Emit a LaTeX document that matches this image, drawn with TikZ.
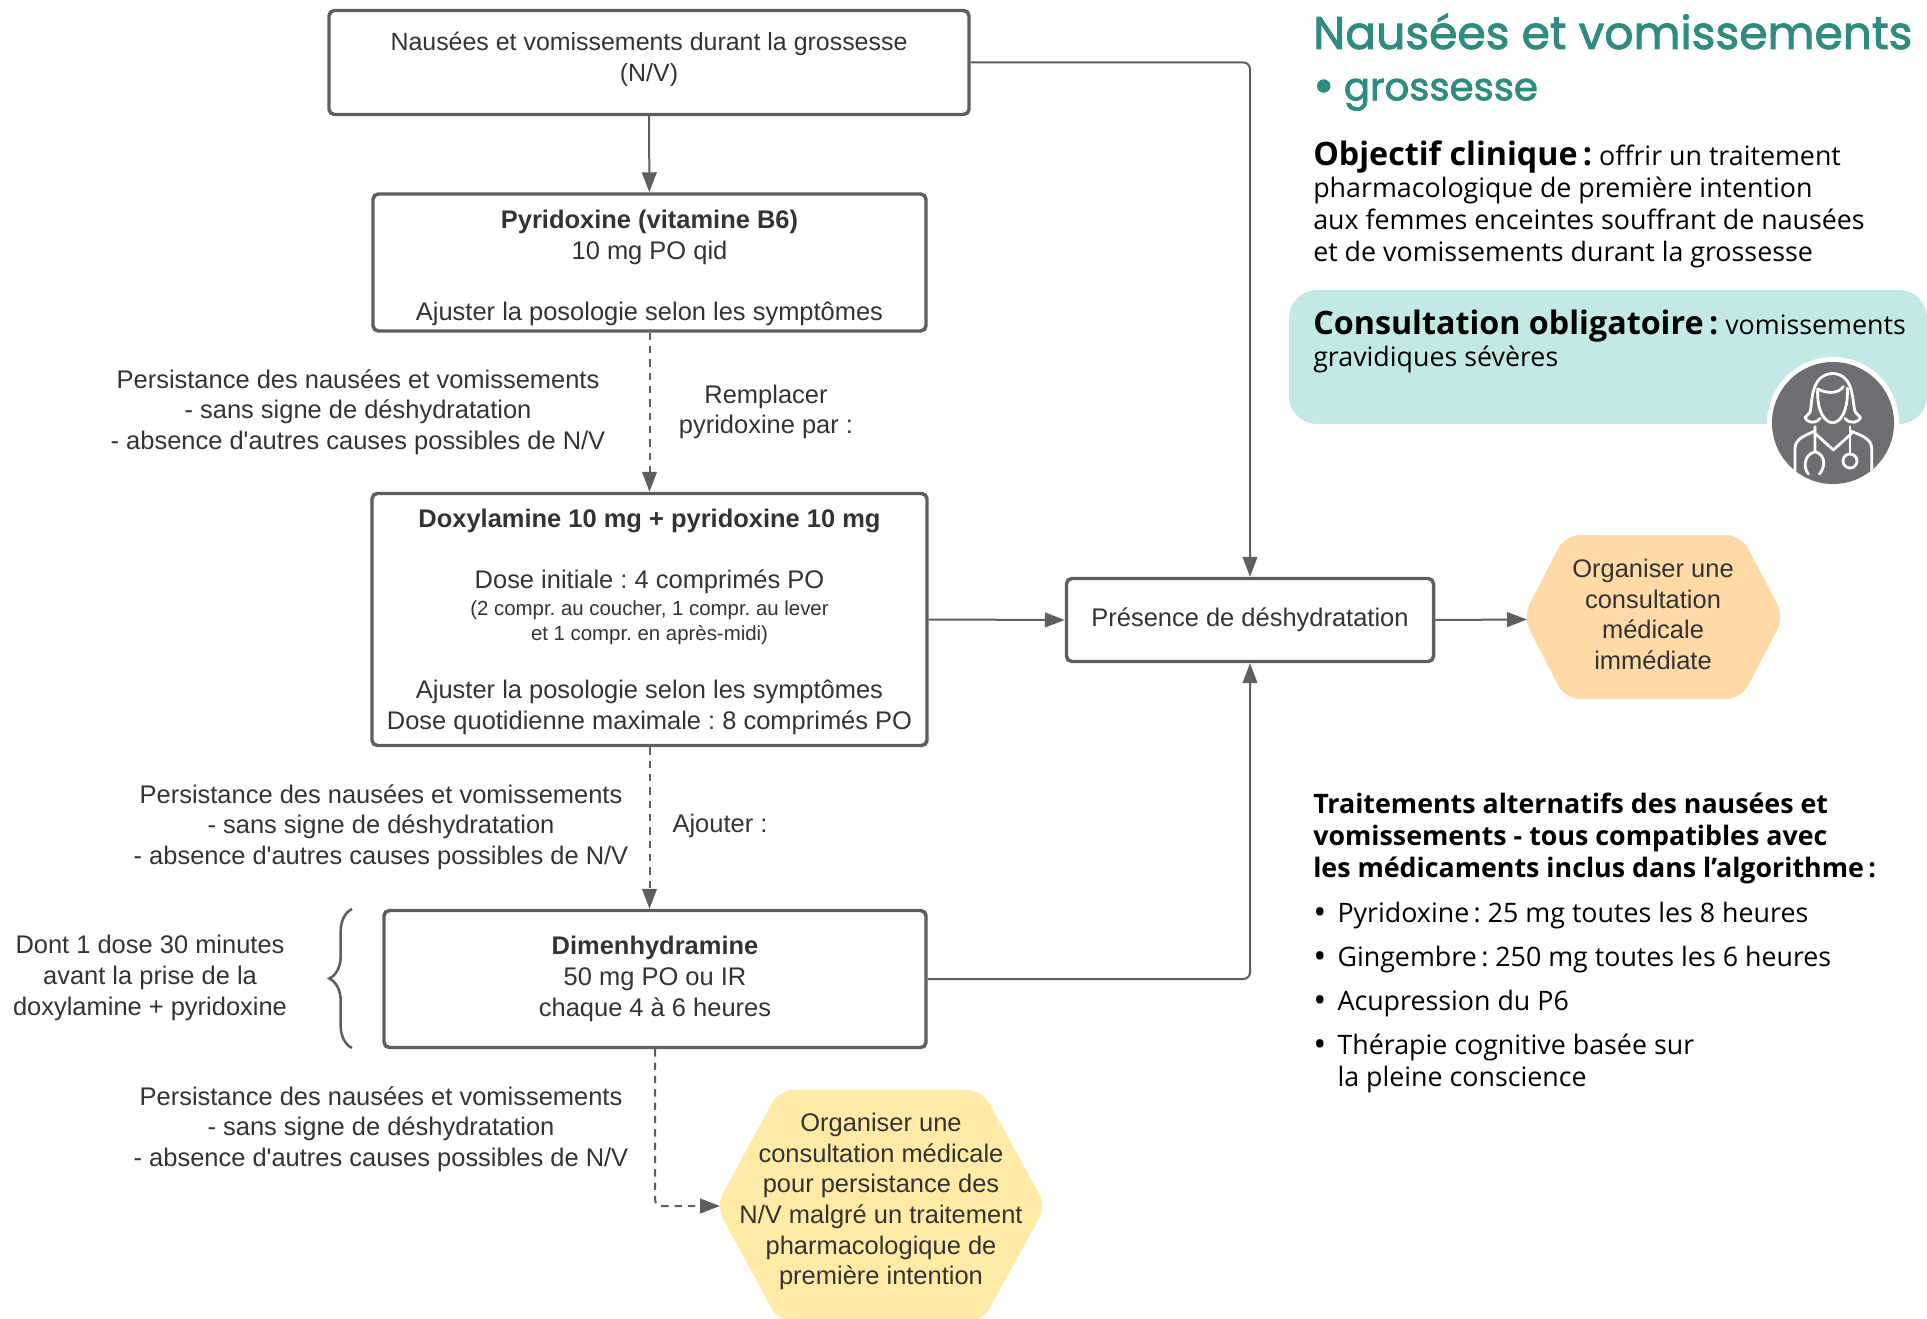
\documentclass[tikz,border=0pt]{standalone}
\usepackage{fontspec}
\usetikzlibrary{arrows.meta,decorations.pathreplacing}
\setmainfont{Liberation Sans}[Ligatures=TeXOff]
\newfontfamily\panelfont{Open Sans}
\newfontfamily\titlefont{Poppins}[FakeBold=2]
\frenchspacing
\definecolor{lineGrey}{HTML}{5E5E5E}
\definecolor{textGrey}{HTML}{333333}
\definecolor{titleTeal}{HTML}{2F8A80}
\definecolor{paleTeal}{HTML}{C2E9E5}
\definecolor{paleOrange}{HTML}{FFD9A6}
\definecolor{paleYellow}{HTML}{FFEAA6}
\definecolor{iconGrey}{HTML}{6D6E71}
\tikzset{
	stepbox/.style={draw=lineGrey, line width=2.6pt, rounded corners=4pt, align=center, text=textGrey, inner sep=0pt, font=\fontsize{19.1}{23}\selectfont},
	lbl/.style={align=center, text=textGrey, inner sep=0pt, font=\fontsize{19.1}{23}\selectfont},
	panel/.style={anchor=west, align=left, text=black, inner sep=0pt, font=\panelfont\fontsize{20.1}{24}\selectfont},
	conn/.style={draw=lineGrey, line width=1.5pt, -{Triangle[length=15pt,width=11pt]}},
	dashconn/.style={conn, dash pattern=on 5.5pt off 4.5pt},
	iconline/.style={draw=white, line width=2.1pt, line cap=round, line join=round}
}
\newcommand{\headbf}[1]{{\bfseries\fontsize{24.2}{24}\selectfont #1}}
\newcommand{\bulletmark}{\makebox[18.2pt][l]{\raisebox{-1.5pt}{\fontsize{26}{24}\selectfont •}}}
\begin{document}
\begin{tikzpicture}[x=0.75pt,y=-0.75pt]
	\useasboundingbox (0,0) rectangle (1927,1319);

	% Boxes of the left column
	\node[stepbox, font=\fontsize{18.7}{23}\selectfont, minimum width=640*0.75, minimum height=104*0.75] (box1) at (649,62.5) {Nausées et vomissements durant la grossesse\\(N/V)\\[-14.9pt]};
	\node[stepbox, minimum width=553*0.75, minimum height=137*0.75] (box2) at (649.5,262.5) {\rule{0pt}{22.6pt}\textbf{Pyridoxine (vitamine B6)}\\10 mg PO qid\\~\\Ajuster la posologie selon les symptômes};
	\node[stepbox, minimum width=555*0.75, minimum height=252*0.75] (box3) at (649.5,619.5) {\rule{0pt}{17.4pt}\textbf{Doxylamine 10 mg + pyridoxine 10 mg}\\~\\Dose initiale : 4 comprimés PO\\[-2.75pt]
		{\fontsize{15.3}{18.4}\selectfont (2 compr. au coucher, 1 compr. au lever}\\[-4.6pt]
		{\fontsize{15.3}{18.4}\selectfont et 1 compr. en après-midi)}\\[20.75pt]
		Ajuster la posologie selon les symptômes\\Dose quotidienne maximale : 8 comprimés PO};
	\node[stepbox, minimum width=542*0.75, minimum height=137*0.75] (box4) at (655,979) {\textbf{Dimenhydramine}\\50 mg PO ou IR\\chaque 4 à 6 heures\\[-18.8pt]};
	\node[stepbox, minimum width=367*0.75, minimum height=83*0.75] (dehy) at (1250,620) {Présence de déshydratation\\[-19.1pt]};

	% Hexagons
	\fill[paleOrange, rounded corners=11pt] (1523,617) -- (1565,535) -- (1741,535) -- (1784,617) -- (1741,699) -- (1565,699) -- cycle;
	\coordinate (hexAwest) at (1527,619.5);
	\node[lbl] (hexA) at (1653,614.5) {Organiser une\\consultation\\médicale\\immédiate};
	\fill[paleYellow, rounded corners=11pt] (716,1206) -- (779,1090) -- (982,1090) -- (1046,1206) -- (982,1322) -- (779,1322) -- cycle;
	\coordinate (hexBwest) at (720,1206);
	\node[lbl] (hexB) at (881,1201.5) {Organiser une\\consultation médicale\\pour persistance des\\N/V malgré un traitement\\pharmacologique de\\première intention};

	% Labels of the left column
	\node[lbl] (persistA) at (358,412) {Persistance des nausées et vomissements\\- sans signe de déshydratation\\- absence d'autres causes possibles de N/V};
	\node[lbl] (replace) at (766,412) {Remplacer\\pyridoxine par :};
	\node[lbl] (persistB) at (381,827) {Persistance des nausées et vomissements\\- sans signe de déshydratation\\- absence d'autres causes possibles de N/V};
	\node[lbl] (addDime) at (720,825.5) {Ajouter :};
	\node[lbl] (persistC) at (381,1129) {Persistance des nausées et vomissements\\- sans signe de déshydratation\\- absence d'autres causes possibles de N/V};
	\node[lbl] (doseNote) at (150,978) {Dont 1 dose 30 minutes\\avant la prise de la\\doxylamine + pyridoxine};
	\draw[lineGrey, line width=1.9pt, decorate, decoration={brace, amplitude=17pt}] (352,1048) -- (352,909);

	% Mappings
	\draw[conn] (box1) -- (box2);
	\draw[dashconn] (box2) -- (box3);
	\draw[dashconn] (box3.south) -- (box3.south |- box4.north);
	\draw[conn, rounded corners=5pt] (box1.east) -| (dehy.north);
	\draw[conn] (box3.east) -- (dehy.west);
	\draw[conn, rounded corners=5pt] (box4.east) -| (dehy.south);
	\draw[conn] (dehy.east) -- (hexAwest);
	\draw[dashconn, rounded corners=5pt] (box4.south) |- (hexBwest);

	% Right panel
	\node[anchor=west, align=left, inner sep=0pt, text=titleTeal, font=\titlefont\fontsize{29}{40}\selectfont] (title) at (1313,62) {{\fontsize{34.2}{40}\selectfont Nausées et vomissements}\\[-1.5pt]\makebox[23pt][l]{\raisebox{-2pt}{\fontsize{38}{40}\selectfont •}}grossesse};
	\node[panel] (aim) at (1313,204.3) {\headbf{Objectif clinique\,:} offrir un traitement\\pharmacologique de première intention\\aux femmes enceintes souffrant de nausées\\et de vomissements durant la grossesse};
	\fill[paleTeal, rounded corners=21pt] (1289,290) rectangle (1927,424);
	\node[panel] (consult) at (1313,341.3) {\headbf{Consultation obligatoire\,:} vomissements\\gravidiques sévères};

	% Doctor icon
	\fill[white] (1833,423) circle (66);
	\fill[iconGrey] (1833,423) circle (61);
	\begin{scope}
		\clip (1833,423) circle (61);
		\begin{scope}[shift={(1760,355)}, scale=1/3]
			\draw[iconline] (150,172) .. controls (158,140) and (150,60) .. (218,55) .. controls (285,60) and (275,140) .. (286,172);
			\draw[iconline] (150,172) -- (135,188) .. controls (140,202) and (165,210) .. (180,190);
			\draw[iconline] (286,172) -- (302,188) .. controls (296,202) and (270,210) .. (255,190);
			\draw[iconline] (173,102) .. controls (170,170) and (195,203) .. (218,203) .. controls (240,203) and (265,170) .. (262,100);
			\draw[iconline] (173,102) .. controls (205,118) and (235,115) .. (250,95);
			\draw[iconline] (165,235) -- (220,285) -- (275,235);
			\draw[iconline] (105,400) -- (105,280) .. controls (105,250) and (140,240) .. (165,228);
			\draw[iconline] (335,400) -- (335,280) .. controls (335,250) and (300,240) .. (272,228);
			\draw[iconline] (165,215) -- (165,290) .. controls (130,300) and (130,340) .. (145,357);
			\draw[iconline] (165,290) .. controls (200,300) and (195,340) .. (178,357);
			\draw[iconline] (270,215) -- (270,295);
			\draw[iconline] (270,318) circle (21);
		\end{scope}
	\end{scope}

	% Alternatives
	\node[panel] (altHead) at (1313,838.8) {\textbf{Traitements alternatifs des nausées et}\\\textbf{vomissements - tous compatibles avec}\\\textbf{les médicaments inclus dans l’algorithme\,:}};
	\foreach \y/\txt in {916/{Pyridoxine\,: 25 mg toutes les 8 heures},960/{Gingembre\,: 250 mg toutes les 6 heures},1004/{Acupression du P6}}
	\node[panel] at (1313,\y) {\bulletmark\txt};
	\node[panel] (altLast) at (1313,1063) {\bulletmark Thérapie cognitive basée sur\\\hspace*{18.2pt}la pleine conscience};
\end{tikzpicture}
\end{document}
